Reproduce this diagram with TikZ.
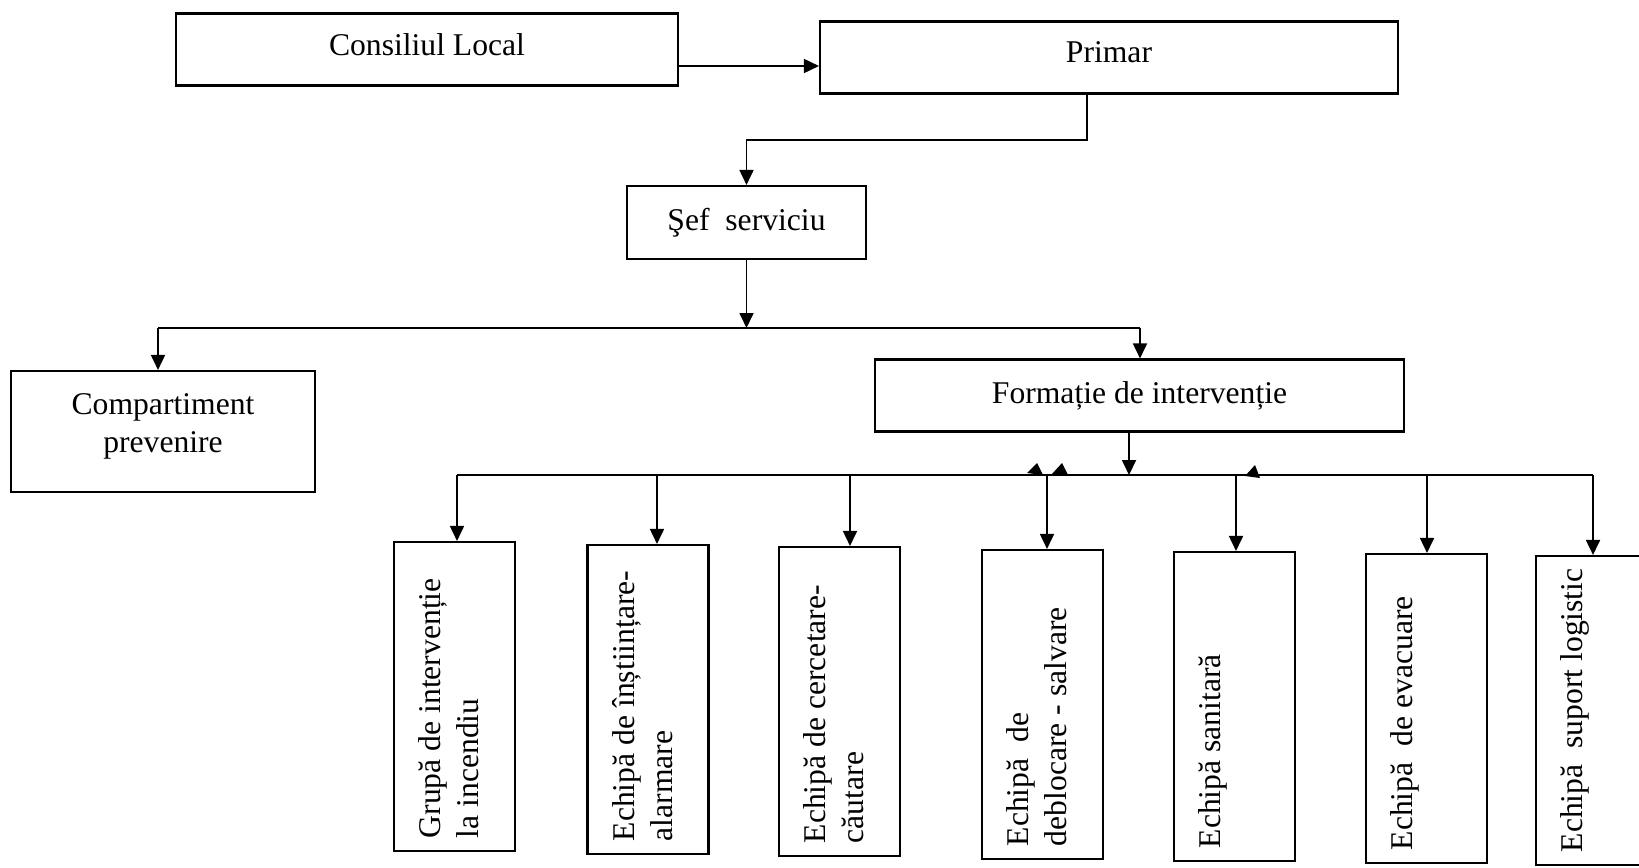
\documentclass[tikz,border=0pt]{standalone}
\usepackage{fontspec}
\setmainfont{Liberation Serif}
\usetikzlibrary{arrows.meta}
\usetikzlibrary{calc}

\begin{document}
\begin{tikzpicture}[x=0.2mm, y=-0.2mm, line width=1pt,
    >={Triangle[length=3mm, width=2.8mm]},
    box/.style={draw, line width=1.2pt, inner sep=0pt, align=center,
        font=\fontsize{18}{21.6}\selectfont},
    vtext/.style={rotate=90, anchor=north west, inner sep=0pt, align=left,
        font=\fontsize{18}{21.6}\selectfont}]

    % 画布 (Canvas)
    \useasboundingbox (0,0) rectangle (1639,867);
    \clip (0,0) rectangle (1639,867);

    % 上层 (Top level)
    \node[box, minimum width=100.4mm, minimum height=14.4mm, text depth=2mm] (cl) at (427,49.5) {Consiliul Local};
    \node[box, minimum width=115.6mm, minimum height=14.4mm, text depth=2mm] (pr) at (1109,57.5) {Primar};
    \node[box, minimum width=47.8mm, minimum height=14.6mm] (sef) at (746.5,222.5) {Şef~~serviciu};
    \node[box, minimum width=60.8mm, minimum height=24.2mm, text depth=3.5mm] (cp) at (163,431.5) {Compartiment\\prevenire};
    \node[box, minimum width=105.8mm, minimum height=14.4mm] (fi) at (1139.5,395.5) {Formație de intervenție};

    % 连线 (Connectors)
    \draw[->] (cl.east |- 0,66) -- (pr.west |- 0,66);
    \coordinate (j1) at (1087,140);
    \draw[->] (pr.south -| j1) -- (j1) -| (sef.north);
    \coordinate (b1l) at (158,328);
    \coordinate (b1r) at (1140,328);
    \draw[->] (sef.south) -- (sef.south |- b1l);
    \draw (b1l) -- (b1r);
    \draw[->] (b1l) -- (b1l |- cp.north);
    \draw[->] (b1r) -- (b1r |- fi.north);

    % 下层总线 (Lower bus)
    \coordinate (b2l) at (457,475);
    \coordinate (b2r) at (1593,475);
    \coordinate (b2m) at (1129,475);
    \draw (b2l) -- (b2r);
    \draw[->] (fi.south -| b2m) -- (b2m);

    % 小队 (Teams)
    \foreach \i/\cx/\cy/\ax/\txt in {
        1/454.5/696.5/457/{Grupă de intervenție\\la incendiu},
        2/648/699.5/657/{Echipă de înștiințare-\\alarmare},
        3/839.5/701.5/850/{Echipă de cercetare-\\căutare},
        4/1042.5/704.5/1047/{Echipă~~de\\deblocare - salvare},
        5/1234.5/706.5/1236/{Echipă sanitară},
        6/1426.5/708.5/1427/{Echipă~~de evacuare},
        7/1596.5/710.5/1593/{Echipă~~suport logistic}} {
        \node[box, minimum width=24.2mm, minimum height=61.8mm] (g\i) at (\cx,\cy) {};
        \node[vtext] (g\i txt) at ($(g\i.south west)+(25,-13)$) {\txt};
        \draw[->] (b2l -| \ax,0) -- (g\i.north -| \ax,0);
    }

    % 残留箭头 (Stray tips)
    \fill (1027,473) -- (1037,463) -- (1043,475) -- cycle;
    \fill (1052,474) -- (1062,463) -- (1068,475) -- cycle;
    \fill (1245,476) -- (1255,465) -- (1260,478) -- cycle;

\end{tikzpicture}
\end{document}
